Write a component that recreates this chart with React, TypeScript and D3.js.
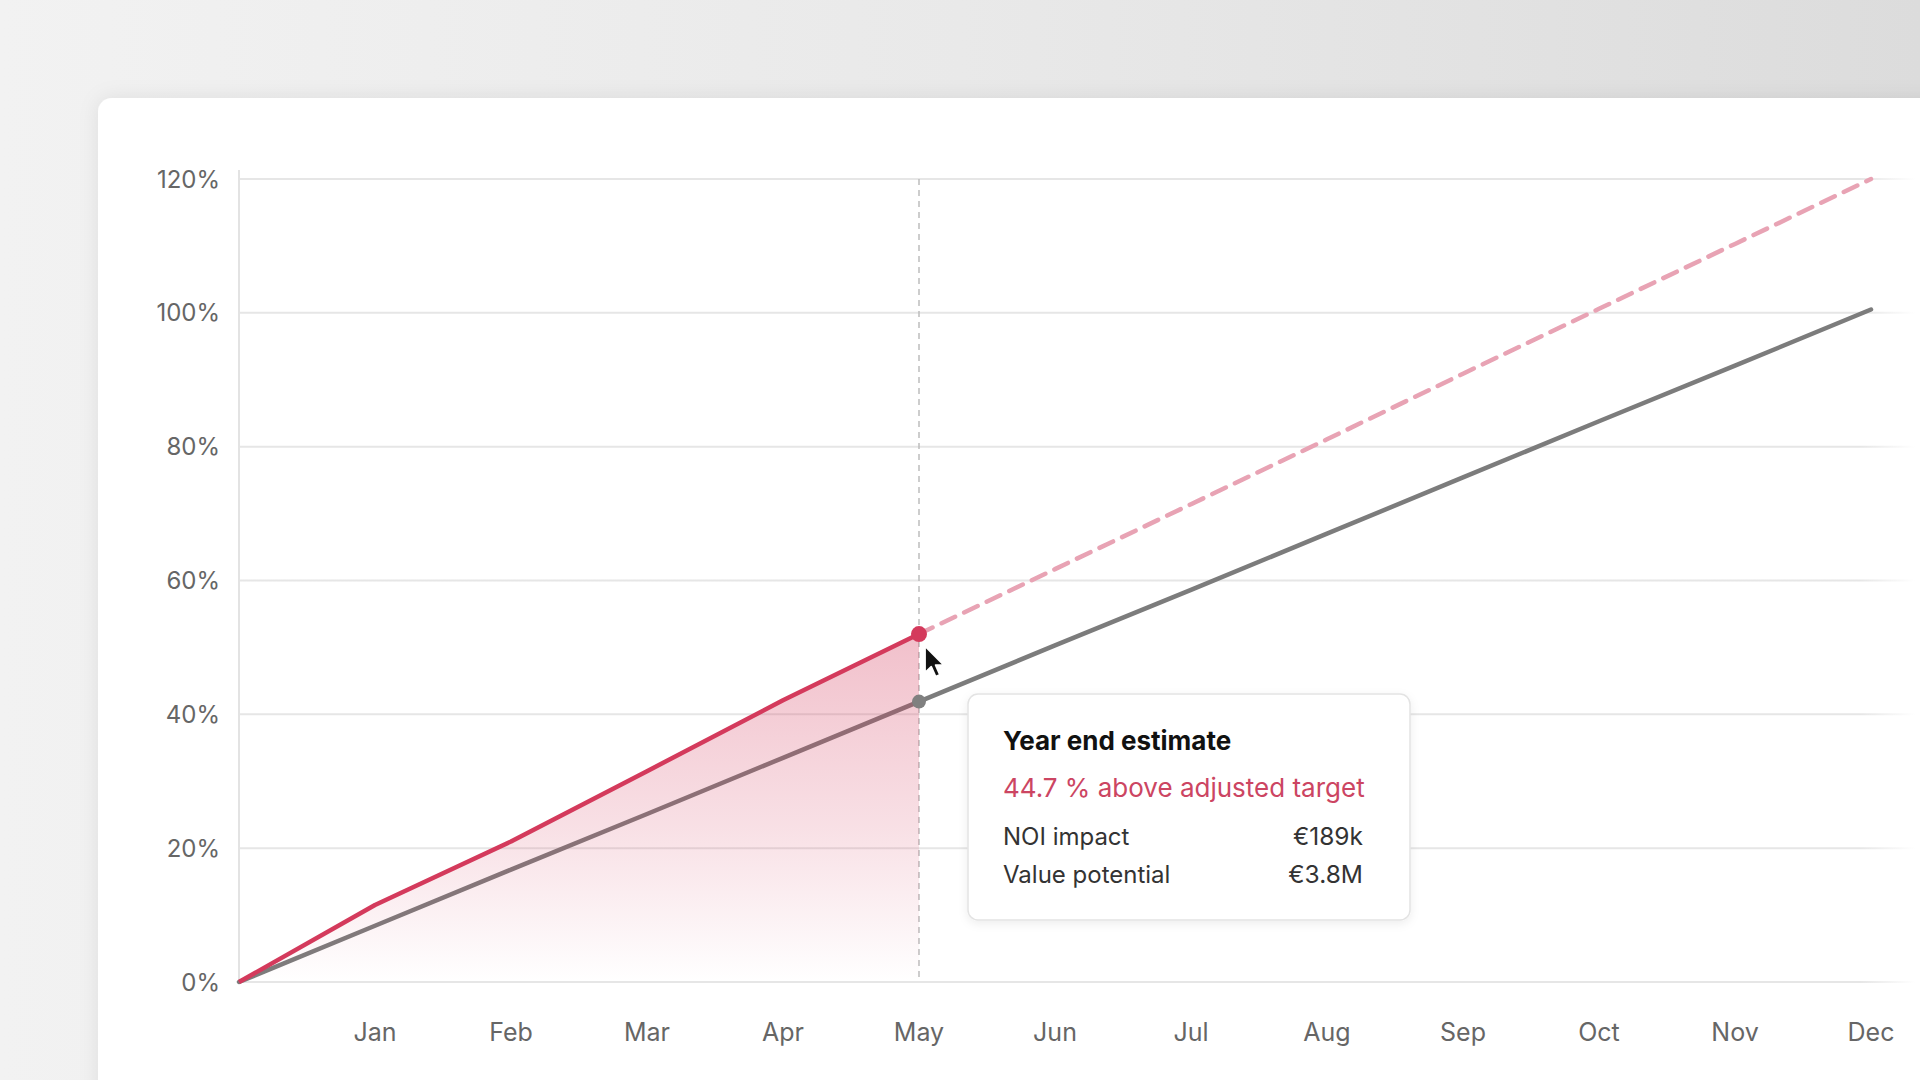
import React from "react";
import * as d3 from "d3";

const months = ["Jan", "Feb", "Mar", "Apr", "May", "Jun", "Jul", "Aug", "Sep", "Oct", "Nov", "Dec"];
const yTicks = [0, 20, 40, 60, 80, 100, 120];
// index 0 = start of year, 1 = Jan ... 12 = Dec
const actualIdx = [0, 1, 2, 3, 4, 5];
const actualVals = [0, 11.5, 21.0, 31.5, 42.1, 52.0];
const targetIdx = [0, 1, 2, 3, 4, 5, 6, 7, 8, 9, 10, 11, 12];
const targetVals = [0, 8.4, 16.8, 25.1, 33.5, 41.9, 50.3, 58.6, 67.0, 75.4, 83.8, 92.1, 100.5];
const projIdx = [5, 6, 7, 8, 9, 10, 11, 12];
const projVals = [52.0, 61.7, 71.4, 81.1, 90.9, 100.6, 110.3, 120.0];
const hoverIdx = 5;
const tooltipTitle = "Year end estimate";
const tooltipHighlight = "44.7 % above adjusted target";
const tooltipRows = [
  ["NOI impact", "€189k"],
  ["Value potential", "€3.8M"],
];

const W = 1920;
const H = 1080;
const x = d3.scaleLinear().domain([0, 12]).range([239, 1871]);
const y = d3.scaleLinear().domain([0, 120]).range([982, 179]);

const RED = "#d43a5c";
const PINK = "#e8a3b4";
const GRAY = "#7c7c7c";

export default function App() {
  const actual = actualIdx.map((i, k) => [i, actualVals[k]] as [number, number]);
  const target = targetIdx.map((i, k) => [i, targetVals[k]] as [number, number]);
  const proj = projIdx.map((i, k) => [i, projVals[k]] as [number, number]);
  const line = d3
    .line<[number, number]>()
    .x((d) => x(d[0]))
    .y((d) => y(d[1]));
  const area = d3
    .area<[number, number]>()
    .x((d) => x(d[0]))
    .y0(y(0))
    .y1((d) => y(d[1]));
  const hx = x(hoverIdx);
  const hRed = y(actualVals[actualVals.length - 1]);
  const hGray = y(targetVals[hoverIdx]);
  const font = "Inter, 'Noto Sans', sans-serif";

  const tipX = 968;
  const tipY = 694;
  const tipW = 442;
  const tipH = 226;

  return (
    <div style={{ position: "fixed", left: 0, top: 0, width: W, height: H, overflow: "hidden" }}>
      <svg width={W} height={H} style={{ display: "block" }}>
        <defs>
          <linearGradient id="bg" x1="0" y1="0" x2="1" y2="0">
            <stop offset="0" stopColor="#f2f2f2" />
            <stop offset="0.5" stopColor="#e9e9e9" />
            <stop offset="1" stopColor="#dcdcdc" />
          </linearGradient>
          <filter id="cardShadow" x="-10%" y="-10%" width="120%" height="120%">
            <feDropShadow dx="0" dy="0" stdDeviation="10" floodColor="#000" floodOpacity="0.08" />
          </filter>
          <filter id="tipShadow" x="-10%" y="-10%" width="120%" height="130%">
            <feDropShadow dx="0" dy="3" stdDeviation="5" floodColor="#000" floodOpacity="0.07" />
          </filter>
          <linearGradient id="areaGrad" gradientUnits="userSpaceOnUse" x1="0" y1={hRed} x2="0" y2={y(0)}>
            <stop offset="0" stopColor={RED} stopOpacity="0.32" />
            <stop offset="0.55" stopColor={RED} stopOpacity="0.16" />
            <stop offset="1" stopColor={RED} stopOpacity="0.0" />
          </linearGradient>
          <linearGradient id="gridFade" gradientUnits="userSpaceOnUse" x1="1860" y1="0" x2="1915" y2="0">
            <stop offset="0" stopColor="#e6e6e6" stopOpacity="1" />
            <stop offset="1" stopColor="#e6e6e6" stopOpacity="0" />
          </linearGradient>
        </defs>

        <rect x={0} y={0} width={W} height={H} fill="url(#bg)" />
        <rect x={98} y={98} width={W} height={H} rx={14} fill="#fff" filter="url(#cardShadow)" />

        {/* grid */}
        {yTicks.map((t) => (
          <line key={t} x1={x(0)} x2={1916} y1={y(t)} y2={y(t)} stroke="url(#gridFade)" strokeWidth={2} />
        ))}
        <line x1={x(0)} x2={x(0)} y1={170} y2={y(0)} stroke="#e3e3e3" strokeWidth={2} />

        {/* y labels */}
        {yTicks.map((t) => (
          <text
            key={"yl" + t}
            x={220}
            y={y(t)}
            dy="0.36em"
            textAnchor="end"
            fontFamily={font}
            fontSize={24}
            fill="#666"
          >
            {t}%
          </text>
        ))}

        {/* x labels */}
        {months.map((m, i) => (
          <text
            key={m}
            x={x(i + 1)}
            y={1041}
            textAnchor="middle"
            fontFamily={font}
            fontSize={25}
            fill="#666"
          >
            {m}
          </text>
        ))}

        {/* hover guide */}
        <line x1={hx} x2={hx} y1={179} y2={y(0)} stroke="#bdbdbd" strokeWidth={1.5} strokeDasharray="6 5" />

        {/* target line */}
        <path d={line(target) || ""} fill="none" stroke={GRAY} strokeWidth={4.5} strokeLinecap="round" />

        {/* area under actual */}
        <path d={area(actual) || ""} fill="url(#areaGrad)" />

        {/* projection */}
        <path
          d={line(proj) || ""}
          fill="none"
          stroke={PINK}
          strokeWidth={4.5}
          strokeDasharray="15 10"
          strokeLinecap="round"
        />

        {/* actual line */}
        <path d={line(actual) || ""} fill="none" stroke={RED} strokeWidth={4.5} strokeLinejoin="round" />

        {/* dots */}
        <circle cx={hx} cy={hGray} r={7} fill="#808080" />
        <circle cx={hx} cy={hRed} r={8} fill={RED} />

        {/* cursor */}
        <g transform={`translate(${hx + 6},${hRed + 12}) scale(1.4)`}>
          <path
            d="M0,0 L0,19 L4.5,14.8 L7.6,21.8 L10.6,20.5 L7.6,13.6 L13.5,13.6 Z"
            fill="#111"
            stroke="#fff"
            strokeWidth={1.3}
            strokeLinejoin="round"
          />
        </g>

        {/* tooltip */}
        <rect
          x={tipX}
          y={tipY}
          width={tipW}
          height={tipH}
          rx={10}
          fill="#fff"
          stroke="#e3e3e3"
          strokeWidth={1.5}
          filter="url(#tipShadow)"
        />
        <text x={1003} y={750} fontFamily={font} fontSize={26} fontWeight={700} fill="#111">
          {tooltipTitle}
        </text>
        <text x={1003} y={797} fontFamily={font} fontSize={26} fill="#cc4562">
          {tooltipHighlight}
        </text>
        {tooltipRows.map((r, k) => (
          <g key={r[0]}>
            <text x={1003} y={845 + k * 38} fontFamily={font} fontSize={24} fill="#333">
              {r[0]}
            </text>
            <text x={1363} y={845 + k * 38} textAnchor="end" fontFamily={font} fontSize={24.5} fill="#333">
              {r[1]}
            </text>
          </g>
        ))}
      </svg>
    </div>
  );
}
